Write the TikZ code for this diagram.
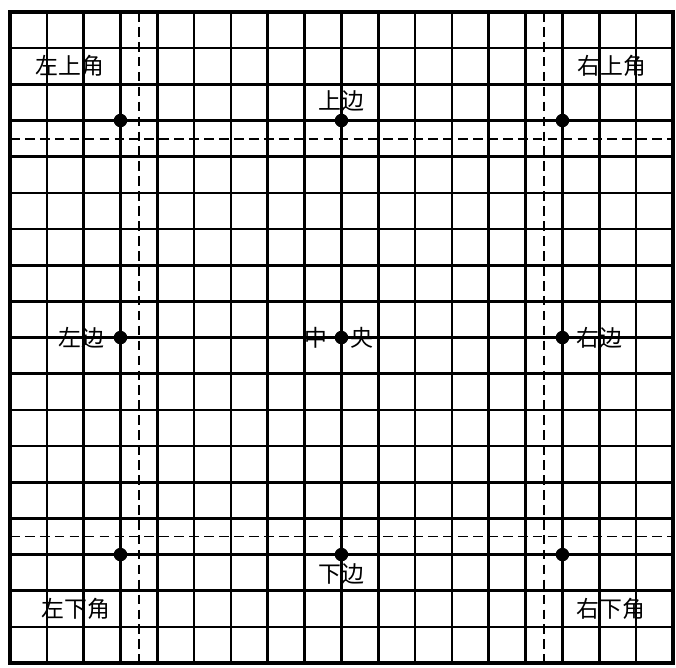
\documentclass[tikz,border=0pt]{standalone}
\usepackage{fontspec}
\newfontfamily\cjk{Noto Sans CJK SC}
\usetikzlibrary{positioning}

\begin{document}
\begin{tikzpicture}[
  x=0.7366cm, y=-0.7234cm,
  grid line/.style={line width=1.5pt},
  border line/.style={line width=2pt},
  guide line/.style={line width=1.1pt, dash pattern=on 5.5pt off 3pt},
  star/.style={circle, fill=black, inner sep=0pt, minimum size=2.7mm},
  lbl/.style={font=\cjk\fontsize{13}{15}\selectfont, inner sep=1pt}
]
\useasboundingbox (-0.2715,-0.3318) rectangle (18.083,18.109);
% board lines
\foreach \i in {1,...,17} {
  \draw[grid line] (\i,0) -- (\i,18);
  \draw[grid line] (0,\i) -- (18,\i);
}
\draw[border line] (0,0) rectangle (18,18);
% dashed guides
\foreach \g in {3.5,14.5} {
  \draw[guide line] (\g,0) -- (\g,18);
  \draw[guide line] (0,\g) -- (18,\g);
}
% star points
\node[star] (tl) at (3,3) {};
\node[star] (t)  at (9,3) {};
\node[star] (tr) at (15,3) {};
\node[star] (l)  at (3,9) {};
\node[star] (c)  at (9,9) {};
\node[star] (r)  at (15,9) {};
\node[star] (bl) at (3,15) {};
\node[star] (b)  at (9,15) {};
\node[star] (br) at (15,15) {};
% labels
\node[lbl] (tl label) at (1.63,1.5) {左上角};
\node[lbl] (tr label) at (16.35,1.5) {右上角};
\node[lbl, above=0pt of t] (t label) {上边};
\node[lbl, left=4pt of l] (l label) {左边};
\node[lbl, left=3pt of c] (c left) {中};
\node[lbl, right=0pt of c] (c right) {央};
\node[lbl, right=3pt of r] (r label) {右边};
\node[lbl, below=0pt of b] (b label) {下边};
\node[lbl] (bl label) at (1.79,16.5) {左下角};
\node[lbl] (br label) at (16.32,16.5) {右下角};
\end{tikzpicture}
\end{document}
